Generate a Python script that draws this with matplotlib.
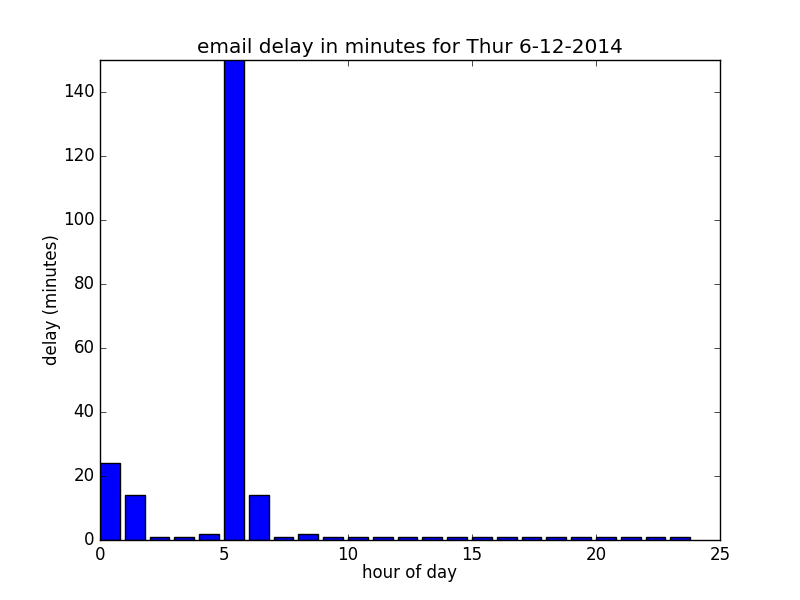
import numpy as np
import matplotlib
matplotlib.use('Agg')
import matplotlib.pyplot as plt

plt.style.use('classic')

# hour of day and delay in minutes
hours = list(range(24))
delays = [24, 14, 1, 1, 2, 160, 14, 1, 2, 1, 1, 1, 1, 1, 1, 1, 1, 1, 1, 1, 1, 1, 1, 1]

fig, ax = plt.subplots(figsize=(8, 6), dpi=100)
fig.patch.set_facecolor('white')
ax.bar(hours, delays, width=0.8, align='edge', color='b', edgecolor='k')
ax.set_xlim(0, 25)
ax.set_ylim(0, 150)
ax.set_title('email delay in minutes for Thur 6-12-2014')
ax.set_xlabel('hour of day', labelpad=0)
ax.set_ylabel('delay (minutes)', labelpad=1)

fig.savefig('out.png', dpi=100, facecolor='white')
